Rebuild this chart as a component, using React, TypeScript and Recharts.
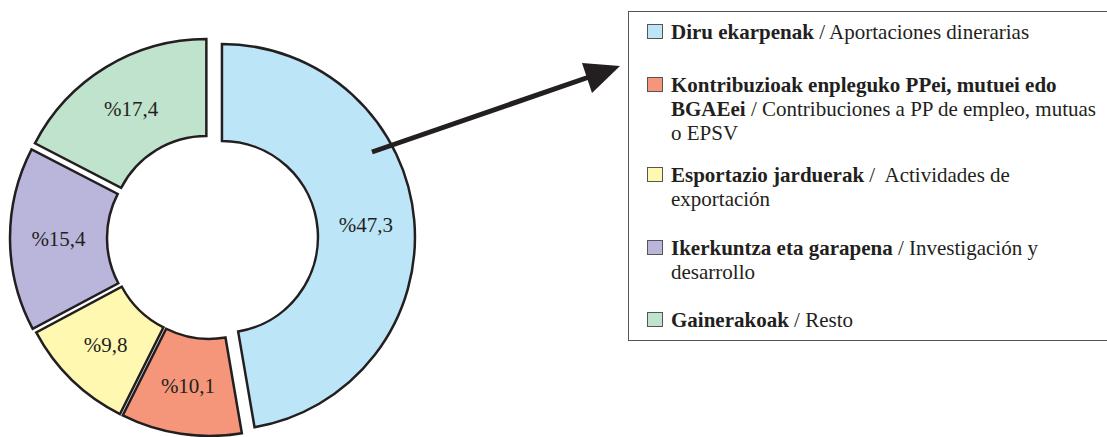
import React from 'react';
import { PieChart, Pie, Cell, Legend } from 'recharts';

// Datos del gráfico
const categories = [
  'Diru ekarpenak',
  'Kontribuzioak enpleguko PPei, mutuei edo BGAEei',
  'Esportazio jarduerak',
  'Ikerkuntza eta garapena',
  'Gainerakoak',
];
const values = [47.3, 10.1, 9.8, 15.4, 17.4];
const colors = ['#bce5f8', '#f5967a', '#fff8b1', '#b9b5db', '#c0e3cd'];

// Líneas de la leyenda: [negrita, normal]
const legendLines: [string, string][][] = [
  [['Diru ekarpenak', ' / Aportaciones dinerarias']],
  [
    ['Kontribuzioak enpleguko PPei, mutuei edo', ''],
    ['BGAEei', ' / Contribuciones a PP de empleo, mutuas'],
    ['', 'o EPSV'],
  ],
  [
    ['Esportazio jarduerak', ' /  Actividades de'],
    ['', 'exportación'],
  ],
  [
    ['Ikerkuntza eta garapena', ' / Investigación y'],
    ['', 'desarrollo'],
  ],
  [['Gainerakoak', ' / Resto']],
];

const data = categories.map((name, i) => ({ name, value: values[i] }));

const FONT = '"Liberation Serif", "Times New Roman", serif';
const INK = '#231f20';
const RAD = Math.PI / 180;
const CX = 210;
const CY = 238;
const explode = [12, 5, 5, 7, 7];
const legendTops = [8, 61, 151, 224, 296];

const total = values.reduce((s, v) => s + v, 0);
const midAngles = values.map((v, i) => {
  const before = values.slice(0, i).reduce((s, x) => s + x, 0);
  return 90 - (360 * (before + v / 2)) / total;
});

const formatPct = (v: number) => `%${v.toFixed(1).replace('.', ',')}`;

const renderLabel = (target: number) => (props: any) => {
  if (props.index !== target) return null;
  const { cx, cy, midAngle, innerRadius, outerRadius } = props;
  const r = (innerRadius + outerRadius) / 2;
  const x = cx + r * Math.cos(-midAngle * RAD);
  const y = cy + r * Math.sin(-midAngle * RAD);
  return (
    <text
      x={x}
      y={y}
      textAnchor="middle"
      dominantBaseline="central"
      fill={INK}
      fontFamily={FONT}
      fontSize={21}
    >
      {formatPct(values[target])}
    </text>
  );
};

const renderLegend = () => (
  <div
    style={{
      position: 'relative',
      width: 490,
      height: 330,
      border: '1px solid #555',
      boxSizing: 'border-box',
      background: '#fff',
      fontFamily: FONT,
      fontSize: 21,
      color: INK,
    }}
  >
    {legendLines.map((lines, i) => (
      <div key={i} style={{ position: 'absolute', left: 0, top: legendTops[i], width: '100%' }}>
        <div
          style={{
            position: 'absolute',
            left: 18,
            top: 4,
            width: 16,
            height: 15,
            boxSizing: 'border-box',
            background: colors[i],
            border: '1px solid #555',
          }}
        />
        {lines.map(([b, n], j) => (
          <div key={j} style={{ paddingLeft: 42, lineHeight: '24px', whiteSpace: 'pre' }}>
            {b && <b>{b}</b>}
            {n}
          </div>
        ))}
      </div>
    ))}
  </div>
);

export default function App() {
  return (
    <div style={{ position: 'absolute', left: 0, top: 0, width: 1107, height: 437, overflow: 'hidden', background: '#fff' }}>
      <PieChart width={1107} height={437} margin={{ top: 0, right: 0, bottom: 0, left: 0 }}>
        {values.map((_, i) => (
          <Pie
            key={i}
            name={categories[i]}
            data={data}
            dataKey="value"
            cx={CX + explode[i] * Math.cos(midAngles[i] * RAD)}
            cy={CY - explode[i] * Math.sin(midAngles[i] * RAD)}
            innerRadius={96}
            outerRadius={193}
            startAngle={90}
            endAngle={-270}
            label={renderLabel(i)}
            labelLine={false}
            isAnimationActive={false}
          >
            {data.map((_, j) => (
              <Cell
                key={j}
                fill={j === i ? colors[j] : 'none'}
                stroke={j === i ? INK : 'none'}
                strokeWidth={2.5}
              />
            ))}
          </Pie>
        ))}
        <Legend
          content={renderLegend}
          layout="vertical"
          align="right"
          verticalAlign="top"
          wrapperStyle={{ position: 'absolute', left: 628, top: 11, width: 490 }}
        />
      </PieChart>
      {/* Flecha encima del gráfico */}
      <svg
        width={1107}
        height={437}
        style={{ position: 'absolute', left: 0, top: 0, pointerEvents: 'none' }}
      >
        <line x1={372} y1={152} x2={592} y2={76} stroke={INK} strokeWidth={5} />
        <polygon points="582,63 620,66 592,93" fill={INK} />
      </svg>
    </div>
  );
}
